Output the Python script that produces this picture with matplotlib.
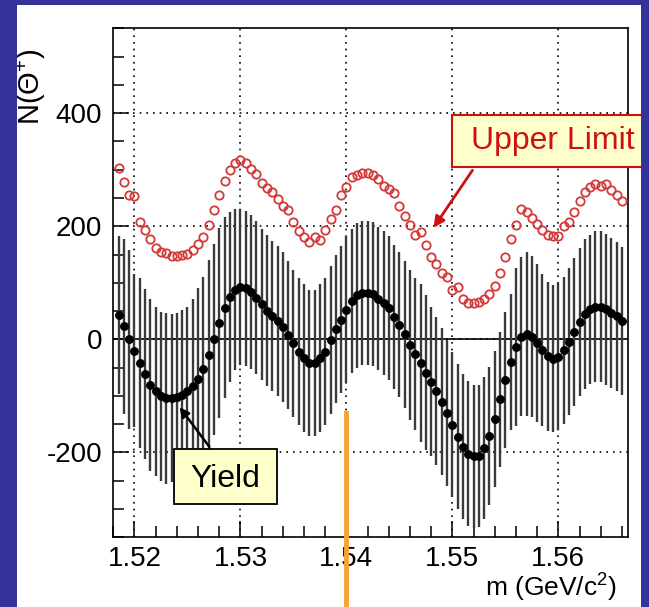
# -*- coding: utf-8 -*-
import numpy as np
import matplotlib.pyplot as plt
from matplotlib.patches import Rectangle
from matplotlib.lines import Line2D

plt.rcParams['font.family'] = ['Liberation Sans', 'DejaVu Sans']
plt.rcParams['mathtext.fontset'] = 'custom'
plt.rcParams['mathtext.rm'] = 'Liberation Sans'
plt.rcParams['axes.unicode_minus'] = False

# mass bins, 0.5 MeV wide
mass = 1.5185 + 0.0005 * np.arange(96)

# fitted yield
yld = [43, 23, 0, -20, -42, -61, -80, -92, -101, -104,
       -104, -102, -98, -92, -82, -70, -53, -28, 0, 29,
       56, 75, 88, 93, 90, 83, 74, 62, 51, 41,
       32, 22, 8, -7, -22, -33, -42, -42, -33, -22,
       -1, 19, 35, 52, 68, 78, 82, 82, 80, 72,
       64, 55, 40, 26, 9, -10, -26, -42, -59, -75,
       -91, -110, -130, -151, -172, -190, -202, -207, -206, -192,
       -171, -141, -106, -72, -40, -13, 5, 9, 5, -6,
       -19, -30, -34, -31, -19, -4, 13, 31, 45, 53,
       58, 58, 53, 47, 41, 33]

# error on the yield
err = [140, 155, 158, 135, 150, 150, 152, 150, 150, 151,
       149, 149, 150, 150, 154, 160, 163, 168, 169, 168,
       160, 150, 142, 138, 137, 136, 135, 134, 134, 133,
       133, 132, 131, 130, 130, 130, 129, 129, 130, 130,
       131, 131, 130, 130, 128, 128, 128, 127, 127, 127,
       127, 127, 127, 128, 130, 132, 135, 140, 137, 132,
       131, 130, 129, 128, 128, 128, 128, 127, 126, 125,
       122, 120, 119, 120, 120, 140, 140, 145, 143, 140,
       135, 132, 130, 130, 130, 130, 131, 131, 132, 132,
       133, 133, 133, 133, 132, 131]

# upper limit
upper = [303, 278, 256, 253, 208, 194, 177, 162, 155, 152,
         147, 147, 149, 151, 158, 168, 181, 202, 228, 255,
         280, 300, 312, 318, 311, 302, 293, 277, 268, 260,
         248, 236, 228, 208, 192, 181, 172, 181, 175, 194,
         212, 229, 255, 269, 287, 290, 294, 294, 291, 284,
         272, 266, 258, 235, 218, 202, 184, 190, 166, 145,
         134, 117, 111, 88, 92, 71, 65, 64, 66, 72,
         81, 94, 118, 146, 177, 202, 230, 226, 215, 204,
         194, 184, 182, 182, 200, 208, 225, 245, 261, 269,
         275, 271, 274, 264, 256, 244]

W, H = 649, 607
def px(x, y):
    # pixel position -> figure fraction
    return (x / W, 1 - y / H)

fig = plt.figure(figsize=(6.49, 6.07), dpi=100, facecolor='white')
ax = fig.add_axes([113.3 / W, 1 - 537.3 / H, 515 / W, 509 / H])

yld = np.array(yld)
err = np.array(err)
ax.vlines(mass, yld - err, yld + err, color='#3a3a3a', lw=1.7, zorder=2)
ax.plot(mass, yld, 'o', color='black', ms=5.4, zorder=3)
ax.plot(mass, upper, 'o', mfc='none', mec='#d23a3a', mew=1.3, ms=6, zorder=3)
ax.axhline(0, color='black', lw=1.2, zorder=1)

ax.set_xlim(1.518, 1.5666)
ax.set_ylim(-350, 550)
ax.set_xticks([1.52, 1.53, 1.54, 1.55, 1.56])
ax.set_xticklabels(['1.52', '1.53', '1.54', '1.55', '1.56'])
ax.set_xticks(np.arange(1.518, 1.5667, 0.002), minor=True)
ax.set_yticks([-200, 0, 200, 400])
ax.set_yticks(np.arange(-350, 551, 50), minor=True)
ax.grid(which='major', linestyle=(0, (1, 3)), color='black', lw=1.2)
ax.set_axisbelow(True)
ax.tick_params(which='both', direction='in', top=False, right=False,
               labelsize=20, width=1.1, color='black')
ax.tick_params(which='major', length=11.5)
ax.tick_params(which='minor', length=8)
ax.tick_params(axis='x', pad=6)
ax.tick_params(axis='y', pad=8)
for s in ax.spines.values():
    s.set_linewidth(1.2)

# axis titles
fig.text(*px(617, 587), 'm (GeV/c$^{2}$)', ha='right', va='center', fontsize=19)
fig.text(*px(31, 125), 'N(Θ$^{+}$)', rotation=90, ha='center', va='bottom', fontsize=21)

# Upper Limit label
fig.add_artist(Rectangle(px(452, 167), 194 / W, 52 / H, transform=fig.transFigure,
                         facecolor='#ffffcc', edgecolor='#cc1111', lw=1.5, zorder=5))
fig.text(*px(553, 141), 'Upper Limit', color='#cc1111', ha='center', va='center',
         fontsize=23, zorder=6)
ax.annotate('', xy=px(432, 230), xytext=px(474, 168), xycoords='figure fraction',
            textcoords='figure fraction', annotation_clip=False,
            arrowprops=dict(arrowstyle='-|>', color='#cc1111', lw=2, mutation_scale=16))

# Yield label
fig.add_artist(Rectangle(px(174, 504), 103 / W, 55 / H, transform=fig.transFigure,
                         facecolor='#ffffcc', edgecolor='black', lw=1.3, zorder=5))
fig.text(*px(225, 479), 'Yield', color='black', ha='center', va='center',
         fontsize=23, zorder=6)
ax.annotate('', xy=px(178, 405), xytext=px(211, 449), xycoords='figure fraction',
            textcoords='figure fraction', annotation_clip=False,
            arrowprops=dict(arrowstyle='-|>', color='black', lw=1.8, mutation_scale=14))

# slide border
blue = '#333399'
for r in [(0, 0, 17, H), (641, 0, W - 641, H), (0, 0, W, 5)]:
    fig.add_artist(Rectangle((r[0] / W, 1 - (r[1] + r[3]) / H), r[2] / W, r[3] / H,
                             transform=fig.transFigure, facecolor=blue,
                             edgecolor='none', zorder=8))

# orange pointer line
fig.add_artist(Line2D([346 / W, 346 / W], [0, 1 - 413 / H], transform=fig.transFigure,
                      color='#f7a233', lw=3.5, zorder=10))

plt.savefig('out.png', dpi=100, facecolor=fig.get_facecolor())
